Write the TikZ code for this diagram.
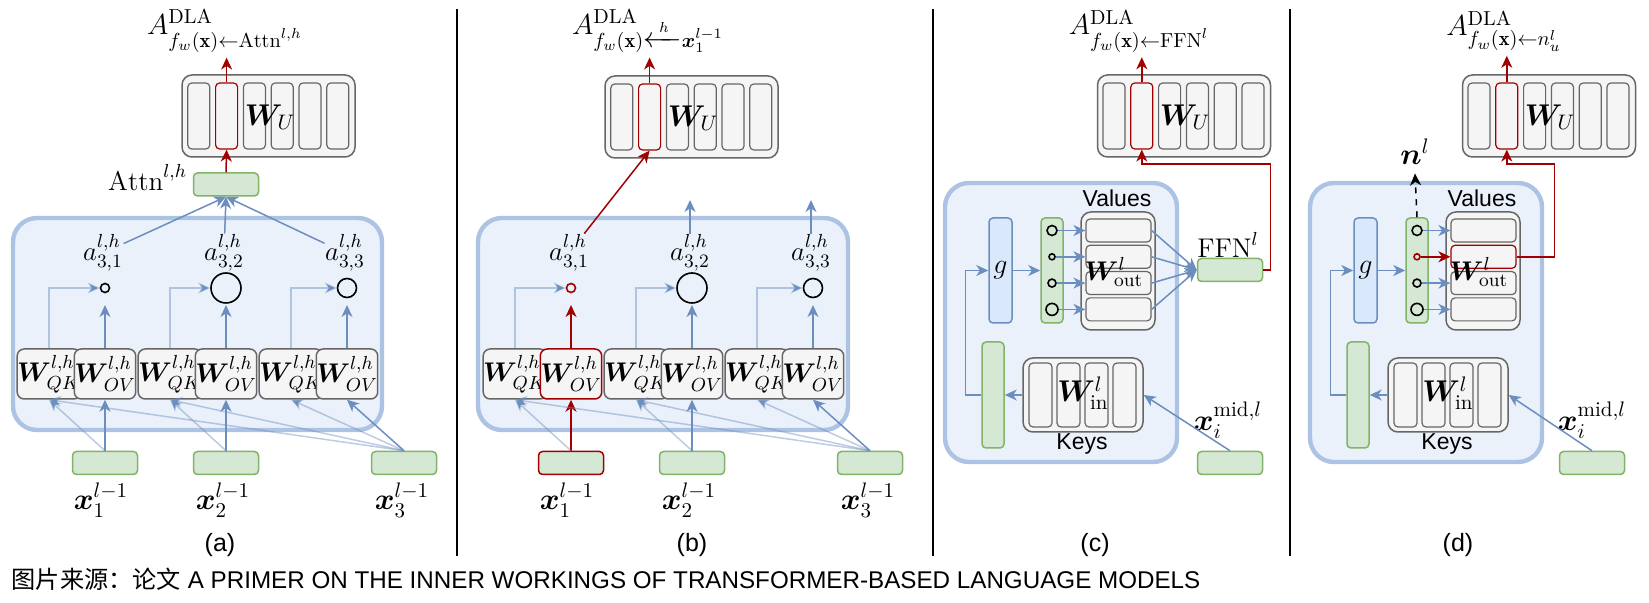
\RequirePackage{fix-cm}
\documentclass[tikz,border=0pt]{standalone}
\usepackage{amsmath}
\usepackage{bm}
\usepackage{fontspec}
\setsansfont{Liberation Sans}
\newfontfamily\cjkfont{Noto Sans CJK SC}
\usetikzlibrary{arrows.meta}

\definecolor{blueline}{HTML}{6C8EBF}
\definecolor{bluefill}{HTML}{DAE8FC}
\definecolor{headfill}{HTML}{EAF1FB}
\definecolor{headline}{HTML}{ADC3E4}
\definecolor{greenfill}{HTML}{D5E8D4}
\definecolor{greenline}{HTML}{82B366}
\definecolor{grayfill}{HTML}{F5F5F5}
\definecolor{grayline}{HTML}{666666}
\definecolor{hotred}{HTML}{A20000}

\begin{document}
\begin{tikzpicture}[x=0.5pt, y=-0.5pt, line width=0.75pt,
  arr/.style={-{Stealth[length=6pt, width=5.5pt, inset=1.8pt]}},
  link/.style={arr, draw=blueline},
  faint/.style={arr, draw=blueline, draw opacity=0.45},
  hot/.style={arr, draw=hotred},
  headbox/.style={draw=headline, fill=headfill, line width=2.2pt, rounded corners=12pt},
  inbox/.style={draw=greenline, fill=greenfill, rounded corners=2pt, inner sep=0pt,
    minimum width=32.5pt, minimum height=11.5pt},
  wbox/.style={draw=grayline, fill=grayfill, rounded corners=3.5pt, inner sep=0pt,
    minimum size=25pt, font=\fontsize{13.5}{15}\selectfont},
  wuframe/.style={draw=grayline, fill=grayfill, rounded corners=5pt, inner sep=0pt,
    minimum width=86.5pt, minimum height=41pt},
  wucol/.style={draw=grayline, fill=grayfill, rounded corners=2pt, inner sep=0pt,
    minimum width=11pt, minimum height=33pt, line width=0.6pt},
  kcol/.style={wucol, minimum width=11.5pt, minimum height=32pt},
  vrow/.style={wucol, minimum width=32.5pt, minimum height=11.5pt},
  actbar/.style={draw=greenline, fill=greenfill, rounded corners=2pt, inner sep=0pt,
    minimum width=11pt, minimum height=52.5pt},
  gbox/.style={draw=blueline, fill=bluefill, rounded corners=2pt, inner sep=0pt,
    minimum width=11.5pt, minimum height=52.5pt, font=\fontsize{14}{16}\selectfont},
  score/.style={circle, draw, inner sep=0pt, line width=0.8pt},
  mlab/.style={inner sep=0pt, font=\fontsize{13.5}{15}\selectfont},
  biglab/.style={inner sep=0pt, font=\fontsize{15}{17}\selectfont},
  dlalab/.style={inner sep=2pt, font=\fontsize{14.5}{17}\selectfont},
  sflab/.style={inner sep=0pt, font=\sffamily\fontsize{11.5}{13}\selectfont},
  caplab/.style={inner sep=0pt, font=\sffamily\fontsize{12.5}{14}\selectfont},
  divider/.style={line width=0.8pt}]
\useasboundingbox (0,0) rectangle (1649,603);

% dividers between the panels
\draw[divider] (457,9) -- (457,556);
\draw[divider] (933,9) -- (933,556);
\draw[divider] (1290,9) -- (1290,556);

% (a) one attention head as a whole
\draw[headbox] (13,218) rectangle (382,430);
\foreach \i/\x/\rad in {1/105/4.5, 2/226/15, 3/347/9.5} {
  \node[wbox] (qka\i) at (\x-56,374) {$\bm{W}^{l,h}_{QK}$};
  \node[wbox] (ova\i) at (\x,374) {$\bm{W}^{l,h}_{OV}$};
  \node[score, minimum size=\rad pt] (sa\i) at (\x,288) {};
  \node[mlab] (aa\i) at (\x-2,253) {$a^{l,h}_{3,\i}$};
  \draw[faint] (qka\i.north) |- (sa\i.west);
  \draw[link] (ova\i.north) -- (ova\i.north |- 0,305);
}
\node[inbox] (xa1) at (105,463) {};
\node[inbox] (xa2) at (226,463) {};
\node[inbox] (xa3) at (404,463) {};
\node[biglab] (xla1) at (101,500) {$\bm{x}^{l-1}_1$};
\node[biglab] (xla2) at (223,500) {$\bm{x}^{l-1}_2$};
\node[biglab] (xla3) at (402,500) {$\bm{x}^{l-1}_3$};
\foreach \i in {1,2,3} {
  \draw[faint] (xa\i.north) -- (qka\i.south);
  \draw[link] (xa\i.north) -- (ova\i.south);
}
\draw[faint] (xa3.north) -- (qka1.south);
\draw[faint] (xa3.north) -- (qka2.south);
\node[inbox] (attna) at (226,184.5) {};
\node[mlab, anchor=base east] (attnla) at ([xshift=-2.5pt, yshift=-3pt]attna.west) {$\mathrm{Attn}^{l,h}$};
\foreach \i in {1,2,3} \draw[link] (aa\i) -- (attna.south);
\node[wuframe] (wua) at (268.5,116) {};
\foreach \k in {1,3,4,5,6} \node[wucol] (wua\k) at (171+27.8*\k,116) {};
\node[wucol, draw=hotred] (wua2) at (226.6,116) {};
\node[biglab] (wula) at (270,117) {$\bm{W}_U$};
\node[dlalab] (dlaa) at (225,31) {$A^{\mathrm{DLA}}_{f_w(\mathbf{x})\leftarrow\mathrm{Attn}^{l,h}}$};
\draw[hot] (attna.north) -- (wua2.south);
\draw[hot] (wua2.north) -- (wua2.north |- dlaa.south);
\node[caplab] (capa) at (220,545) {(a)};

% (b) one path through the head
\begin{scope}[shift={(466,0)}]
\draw[headbox] (12,218) rectangle (382,430);
\foreach \i/\x/\rad in {2/226/15, 3/347/9.5} {
  \node[wbox] (qkb\i) at (\x-56,374) {$\bm{W}^{l,h}_{QK}$};
  \node[wbox] (ovb\i) at (\x,374) {$\bm{W}^{l,h}_{OV}$};
  \node[score, minimum size=\rad pt] (sb\i) at (\x,288) {};
  \node[mlab] (ab\i) at (\x-2,253) {$a^{l,h}_{3,\i}$};
  \draw[faint] (qkb\i.north) |- (sb\i.west);
  \draw[link] (ovb\i.north) -- (ovb\i.north |- 0,305);
  \draw[link] (ab\i.north) -- (ab\i.north |- 0,200);
}
\node[wbox] (qkb1) at (49,374) {$\bm{W}^{l,h}_{QK}$};
\node[wbox, draw=hotred] (ovb1) at (105,374) {$\bm{W}^{l,h}_{OV}$};
\node[score, draw=hotred, minimum size=4.5pt] (sb1) at (105,288) {};
\node[mlab] (ab1) at (103,253) {$a^{l,h}_{3,1}$};
\draw[faint] (qkb1.north) |- (sb1.west);
\draw[hot] (ovb1.north) -- (ovb1.north |- 0,305);
\node[inbox, draw=hotred] (xb1) at (105,463) {};
\node[inbox] (xb2) at (226,463) {};
\node[inbox] (xb3) at (404,463) {};
\node[biglab] (xlb1) at (101,500) {$\bm{x}^{l-1}_1$};
\node[biglab] (xlb2) at (223,500) {$\bm{x}^{l-1}_2$};
\node[biglab] (xlb3) at (402,500) {$\bm{x}^{l-1}_3$};
\draw[hot] (xb1.north) -- (ovb1.south);
\foreach \i in {2,3} \draw[link] (xb\i.north) -- (ovb\i.south);
\foreach \i in {1,2,3} \draw[faint] (xb\i.north) -- (qkb\i.south);
\draw[faint] (xb3.north) -- (qkb1.south);
\draw[faint] (xb3.north) -- (qkb2.south);
\node[wuframe] (wub) at (225.5,117) {};
\foreach \k in {1,3,4,5,6} \node[wucol] (wub\k) at (128+27.8*\k,117) {};
\node[wucol, draw=hotred] (wub2) at (183.6,117) {};
\node[biglab] (wulb) at (227,118) {$\bm{W}_U$};
\node[dlalab] (dlab) at (182,31) {$A^{\mathrm{DLA}}_{f_w(\mathbf{x})\smash[t]{\xleftarrow{\;h\;}}\bm{x}^{l-1}_1}$};
\draw[hot] (ab1) -- (wub2.south);
\draw[hot] (wub2.north) -- (wub2.north |- dlab.south);
\node[caplab] (capb) at (226,545) {(b)};
\end{scope}

% (c) the FFN block as key-value memory
\draw[headbox] (945,183) rectangle (1177,462);
\node[sflab] (valc) at (1117,198) {Values};
\node[wuframe, minimum width=37pt, minimum height=59pt] (vfc) at (1118,271) {};
\node[gbox] (gc) at (1000.5,270.5) {$g$};
\node[actbar] (barc) at (1052,270.5) {};
\node[inbox] (ffnc) at (1230,270) {};
\node[mlab] (ffnlc) at (1228,245) {$\mathrm{FFN}^l$};
\foreach \k/\rad in {1/5, 2/3, 3/4, 4/6} {
  \node[vrow] (vc\k) at (1118.5,204.2+26.3*\k) {};
  \node[score, minimum size=\rad pt] (nc\k) at (1052,204.2+26.3*\k) {};
  \draw[link] (nc\k.east) -- (vc\k.west);
  \draw[link] (vc\k.east) -- (ffnc.west);
}
\node[mlab] (woc) at (1114,272) {$\bm{W}^l_{\mathrm{out}}$};
\node[wuframe, minimum width=60pt, minimum height=37pt] (kfc) at (1083,395) {};
\foreach \k in {1,...,4} \node[kcol] (kc\k) at (1012.5+28*\k,395) {};
\node[biglab] (wic) at (1083,393) {$\bm{W}^l_{\mathrm{in}}$};
\node[sflab] (keyc) at (1082,444) {Keys};
\node[actbar, minimum height=53pt] (tallc) at (993,395) {};
\node[inbox] (xmc) at (1230,463) {};
\node[biglab] (xmlc) at (1228,420) {$\bm{x}^{\mathrm{mid},l}_i$};
\draw[link] (kfc.west) -- (tallc.east);
\draw[link] (tallc.west) -- ++(-16,0) |- (gc.west);
\draw[link] (gc.east) -- (barc.west);
\draw[link] (xmc.north) -- (kfc.east);
\node[wuframe] (wuc) at (1184,116) {};
\foreach \k in {1,3,4,5,6} \node[wucol] (wuc\k) at (1086.2+27.8*\k,116) {};
\node[wucol, draw=hotred] (wuc2) at (1141.8,116) {};
\node[biglab] (wulc) at (1185,117) {$\bm{W}_U$};
\node[dlalab] (dlac) at (1139,31) {$A^{\mathrm{DLA}}_{f_w(\mathbf{x})\leftarrow\mathrm{FFN}^l}$};
\draw[hot] (ffnc.east) -- ++(7,0) -- ++(0,-106) -| (wuc2.south);
\draw[hot] (wuc2.north) -- (wuc2.north |- dlac.south);
\node[caplab] (capc) at (1095,545) {(c)};

% (d) a single neuron of the FFN
\begin{scope}[shift={(365,0)}]
\draw[headbox] (945,183) rectangle (1177,462);
\node[sflab] (vald) at (1117,198) {Values};
\node[wuframe, minimum width=37pt, minimum height=59pt] (vfd) at (1118,271) {};
\node[gbox] (gd) at (1000.5,270.5) {$g$};
\node[actbar] (bard) at (1052,270.5) {};
\foreach \k/\rad in {1/5, 3/4, 4/6} {
  \node[vrow] (vd\k) at (1118.5,204.2+26.3*\k) {};
  \node[score, minimum size=\rad pt] (nd\k) at (1052,204.2+26.3*\k) {};
  \draw[link] (nd\k.east) -- (vd\k.west);
}
\node[vrow, draw=hotred] (vd2) at (1118.5,256.8) {};
\node[score, draw=hotred, minimum size=3pt] (nd2) at (1052,256.8) {};
\draw[hot] (nd2.east) -- (vd2.west);
\node[mlab] (wod) at (1114,272) {$\bm{W}^l_{\mathrm{out}}$};
\node[biglab] (nld) at (1050,152) {$\bm{n}^l$};
\draw[arr, dashed] (bard.north) -- ([yshift=-4pt]nld.south);
\node[wuframe, minimum width=60pt, minimum height=37pt] (kfd) at (1083,395) {};
\foreach \k in {1,...,4} \node[kcol] (kd\k) at (1012.5+28*\k,395) {};
\node[biglab] (wid) at (1083,393) {$\bm{W}^l_{\mathrm{in}}$};
\node[sflab] (keyd) at (1082,444) {Keys};
\node[actbar, minimum height=53pt] (talld) at (993,395) {};
\node[inbox] (xmd) at (1227,463) {};
\node[biglab] (xmld) at (1227,420) {$\bm{x}^{\mathrm{mid},l}_i$};
\draw[link] (kfd.west) -- (talld.east);
\draw[link] (talld.west) -- ++(-16,0) |- (gd.west);
\draw[link] (gd.east) -- (bard.west);
\draw[link] (xmd.north) -- (kfd.east);
\node[wuframe] (wud) at (1184,116) {};
\foreach \k in {1,3,4,5,6} \node[wucol] (wud\k) at (1086.2+27.8*\k,116) {};
\node[wucol, draw=hotred] (wud2) at (1141.8,116) {};
\node[biglab] (wuld) at (1185,117) {$\bm{W}_U$};
\node[dlalab] (dlad) at (1139,31) {$A^{\mathrm{DLA}}_{f_w(\mathbf{x})\leftarrow n^l_u}$};
\draw[hot] (vd2.east) -- ++(38,0) -- ++(0,-93) -| (wud2.south);
\draw[hot] (wud2.north) -- (wud2.north |- dlad.south);
\node[caplab] (capd) at (1093,545) {(d)};
\end{scope}

% source line
\node[anchor=west, inner sep=0pt, font=\sffamily\fontsize{12.1}{14}\selectfont] (src) at (11,579)
  {{\cjkfont 图片来源：论文} A PRIMER ON THE INNER WORKINGS OF TRANSFORMER-BASED LANGUAGE MODELS};
\end{tikzpicture}
\end{document}
